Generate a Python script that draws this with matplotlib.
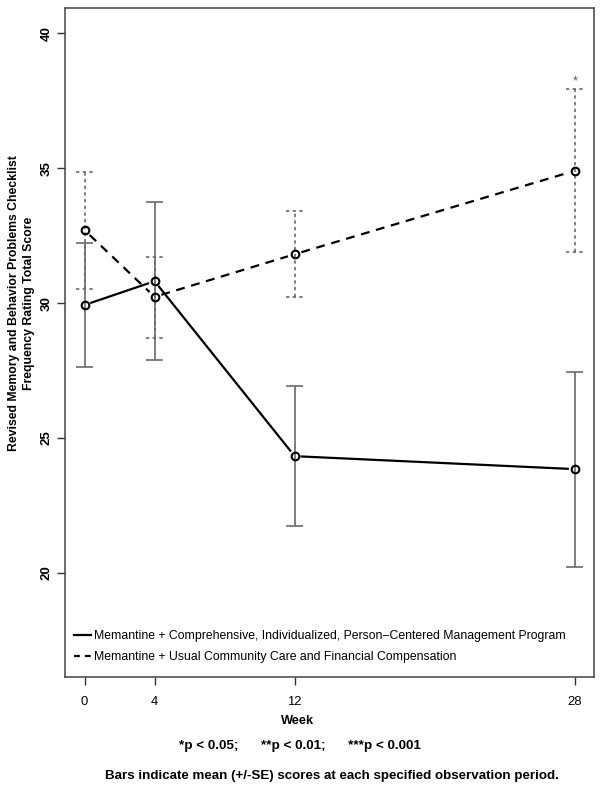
import numpy as np
import matplotlib
matplotlib.use("Agg")
import matplotlib.pyplot as plt

plt.rcParams['font.family'] = ['Liberation Sans', 'DejaVu Sans']

weeks = [0, 4, 12, 28]

# Memantine + comprehensive management program (solid)
prog_mean = [29.93, 30.81, 24.33, 23.85]
prog_lo = [27.62, 27.89, 21.75, 20.23]
prog_hi = [32.21, 33.75, 26.93, 27.43]

# Memantine + usual care (dashed)
usual_mean = [32.70, 30.23, 31.81, 34.90]
usual_lo = [30.53, 28.70, 30.21, 31.90]
usual_hi = [34.86, 31.71, 33.41, 37.93]

sig_week = 28
sig_y = 38.2
sig_label = "*"

labels = ["Memantine + Comprehensive, Individualized, Person\u2212Centered Management Program",
          "Memantine + Usual Community Care and Financial Compensation"]

W, H = 604, 794
fig = plt.figure(figsize=(W / 100, H / 100), dpi=100)
ax = fig.add_axes([65 / W, 1 - 677 / H, (594 - 65) / W, (677 - 8) / H])
ax.set_xlim(-1.12, 29.1)
ax.set_ylim(16.15, 40.93)

ebar_col = "#6a6a6a"
cap = 0.5


def gapped_line(ax, xs, ys, ls, gap_px=7):
    # type="b" style: segments stop short of the points
    pts = ax.transData.transform(np.column_stack([xs, ys]))
    inv = ax.transData.inverted()
    for i in range(len(pts) - 1):
        p0, p1 = pts[i], pts[i + 1]
        d = p1 - p0
        n = np.hypot(*d)
        if n <= 2 * gap_px:
            continue
        u = d / n
        a = inv.transform(p0 + u * gap_px)
        b = inv.transform(p1 - u * gap_px)
        ax.plot([a[0], b[0]], [a[1], b[1]], color="black", lw=1.6,
                dashes=(4, 3) if ls == "--" else (None, None), zorder=3)


def err(ax, xs, lo, hi, ls):
    xs = np.array(xs)
    ax.vlines(xs, lo, hi, color=ebar_col, lw=1.2, linestyles=ls, zorder=2)
    ax.hlines(lo, xs - cap, xs + cap, color=ebar_col, lw=1.2, linestyles=ls, zorder=2)
    ax.hlines(hi, xs - cap, xs + cap, color=ebar_col, lw=1.2, linestyles=ls, zorder=2)


err(ax, weeks, prog_lo, prog_hi, "solid")
err(ax, weeks, usual_lo, usual_hi, (0, (2, 2)))

fig.canvas.draw()
gapped_line(ax, weeks, prog_mean, "-")
gapped_line(ax, weeks, usual_mean, "--")

for m in (prog_mean, usual_mean):
    ax.plot(weeks, m, ls="none", marker="o", ms=5.5, mfc="none", mec="black",
            mew=1.5, zorder=4)

ax.text(sig_week, sig_y, sig_label, ha="center", va="center", fontsize=9,
        color="#555555")

# legend
h1, = ax.plot([], [], color="black", lw=1.6, ls="-")
h2, = ax.plot([], [], color="black", lw=1.6, dashes=(2.6, 2.3))
ax.legend([h1, h2], labels, loc="lower left", bbox_to_anchor=(0.0, 0.008),
          frameon=False, fontsize=8.8, handlelength=1.4, handletextpad=0.3,
          labelspacing=0.75, borderaxespad=0.3)

ax.set_xticks(weeks)
ax.set_xticklabels([str(w) for w in weeks], fontsize=9.4)
ax.set_yticks([20, 25, 30, 35, 40])
ax.set_yticklabels(["20", "25", "30", "35", "40"], fontsize=9.5,
                   fontweight="bold", rotation=90, va="center")
ax.tick_params(direction="out", length=6, width=1, color="#333333")
ax.tick_params(axis="x", pad=8)
ax.tick_params(axis="y", pad=3)
for s in ax.spines.values():
    s.set_color("#444444")
    s.set_linewidth(1.1)

fig.text(14 / W, 1 - 303 / H, "Revised Memory and Behavior Problems Checklist",
         rotation=90, ha="center", va="center", fontsize=8.8, fontweight="bold")
fig.text(29 / W, 1 - 303 / H, "Frequency Rating Total Score",
         rotation=90, ha="center", va="center", fontsize=8.8, fontweight="bold")
fig.text(298 / W, 1 - 721 / H, "Week", ha="center", va="center",
         fontsize=9.2, fontweight="bold")
fig.text(300 / W, 1 - 746 / H, "*p < 0.05;      **p < 0.01;      ***p < 0.001",
         ha="center", va="center", fontsize=9.7, fontweight="bold")
fig.text(332 / W, 1 - 776 / H,
         "Bars indicate mean (+/-SE) scores at each specified observation period.",
         ha="center", va="center", fontsize=9.6, fontweight="bold")

fig.savefig("out.png", dpi=100)
